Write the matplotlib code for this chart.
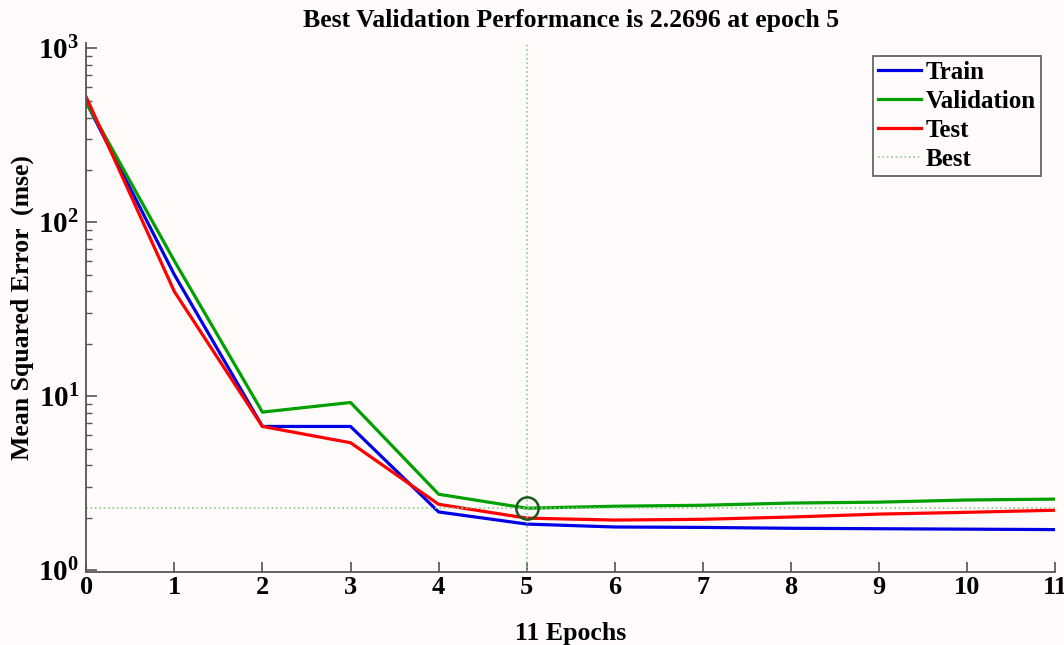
import numpy as np
import matplotlib
matplotlib.use("Agg")
import matplotlib.pyplot as plt

# values (mse per epoch)
epochs = [0, 1, 2, 3, 4, 5, 6, 7, 8, 9, 10, 11]
train_mse = [490, 50, 6.7, 6.7, 2.16, 1.84, 1.77, 1.76, 1.74, 1.73, 1.72, 1.71]
val_mse = [490, 60, 8.1, 9.2, 2.73, 2.2696, 2.33, 2.36, 2.43, 2.46, 2.53, 2.56]
test_mse = [525, 40, 6.7, 5.4, 2.39, 1.99, 1.94, 1.96, 2.02, 2.10, 2.15, 2.21]
best_epoch = 5
best_perf = 2.2696

plt.rcParams['font.family'] = ['Liberation Serif', 'DejaVu Serif']
plt.rcParams['font.weight'] = 'bold'
plt.rcParams['mathtext.fontset'] = 'custom'
plt.rcParams['mathtext.rm'] = 'Liberation Serif:bold'
plt.rcParams['mathtext.it'] = 'Liberation Serif:bold'
plt.rcParams['mathtext.bf'] = 'Liberation Serif:bold'

bg = '#fffbfa'
fig = plt.figure(figsize=(10.64, 6.45), dpi=100, facecolor=bg)
ax = fig.add_axes([0.081, 0.113, 0.911, 0.82], facecolor=bg)

ax.plot(epochs, train_mse, color='#0000e6', lw=2.3, label='Train')
ax.plot(epochs, val_mse, color='#00a000', lw=2.3, label='Validation')
ax.plot(epochs, test_mse, color='#ff0000', lw=2.3, label='Test')
ax.axvline(best_epoch, color='#8fc98f', ls=':', lw=1.2, label='Best')
ax.axhline(best_perf, color='#8fc98f', ls=':', lw=1.2)
ax.plot([best_epoch], [best_perf], 'o', ms=16, mfc='none', mec='#1a5a1a', mew=1.8)

ax.set_yscale('log')
ax.set_xlim(0, 11)
ax.set_ylim(0.974, 1070)
ax.set_xticks(epochs)

for s in ['top', 'right']:
    ax.spines[s].set_visible(False)
for s in ['left', 'bottom']:
    ax.spines[s].set_color('#555555')
    ax.spines[s].set_linewidth(1.3)

ax.tick_params(axis='both', which='both', direction='in', color='#555555')
ax.tick_params(axis='x', labelsize=19, length=7, width=1.2, pad=3)
ax.tick_params(axis='y', which='major', labelsize=21, length=8, width=1.2, pad=5)
ax.tick_params(axis='y', which='minor', length=4, width=1.0)

ax.set_title('Best Validation Performance is 2.2696 at epoch 5', fontsize=18.5,
             fontweight='bold', pad=12)
ax.set_xlabel('11 Epochs', fontsize=18.5, fontweight='bold', labelpad=16)
ax.set_ylabel('Mean Squared Error  (mse)', fontsize=18.5, fontweight='bold', labelpad=3)

leg = ax.legend(loc='upper right', bbox_to_anchor=(0.99, 0.985), fontsize=18,
                fancybox=False, framealpha=1, facecolor=bg, edgecolor='#666666',
                handlelength=1.7, handletextpad=0.2, borderpad=0.2, labelspacing=0.24,
                borderaxespad=0.2)
leg.get_frame().set_linewidth(1.3)

fig.savefig('out.png', dpi=100, facecolor=bg)
